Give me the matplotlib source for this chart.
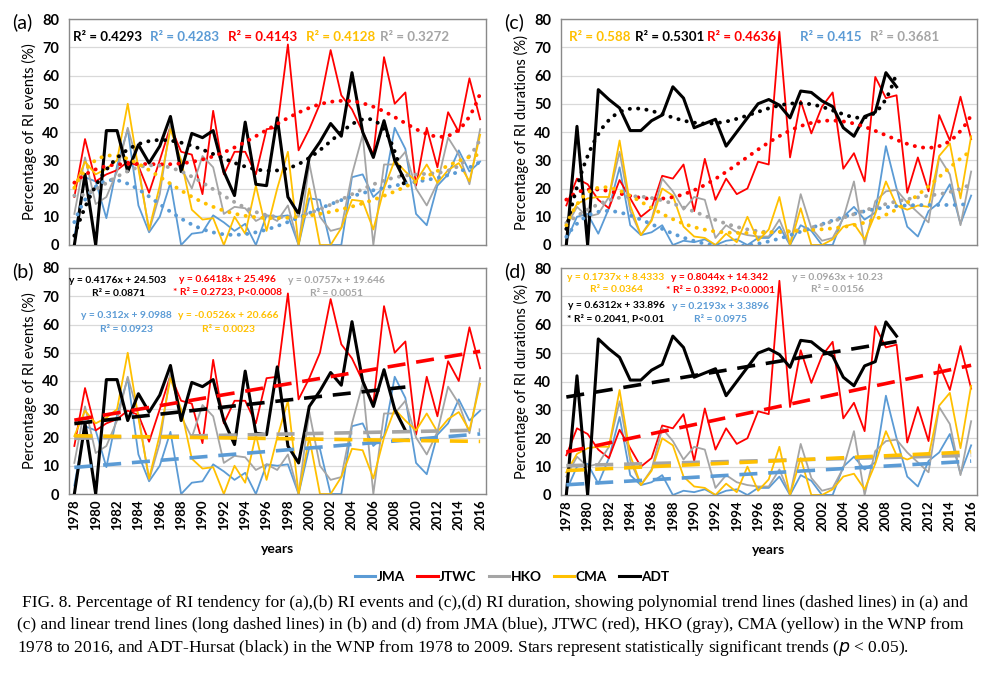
import numpy as np
import matplotlib
matplotlib.use("Agg")
import matplotlib.pyplot as plt

years = np.arange(1978, 2017)
adt_years = np.arange(1978, 2010)

# percentage of RI events
ev_jma = [3, 24, 22.5, 9.5, 28, 41, 14, 4.5, 10, 22, 0, 4, 4.5, 10.5, 8, 5, 7.5, 0, 10.5, 10,
          10.5, 0, 16.5, 16, 0, 0, 24, 25, 17, 20.5, 41.5, 34, 11, 7, 21, 25, 33.5, 26, 29.5]
ev_jtwc = [17, 37.5, 22.5, 25, 26.5, 29.5, 28, 18.5, 30, 42, 33, 32, 18, 47.5, 25, 33, 33, 25, 41,
           41.5, 71, 33.5, 41, 50, 69, 53, 48, 40, 32, 66.5, 50, 54, 21, 41.5, 27.5, 47, 40, 59, 44.5]
ev_hko = [11, 31, 14.5, 17, 26, 41.5, 28, 5, 18, 43, 27.5, 20, 31.5, 27.5, 11, 13.5, 13, 8.5, 10.5,
          8.5, 14, 0, 29, 10, 5, 6, 25, 39, 0, 28.5, 28.5, 33, 20, 14, 22, 38, 32, 21.5, 41]
ev_cma = [20.5, 29.5, 25, 27, 30, 50, 27, 5.5, 21, 41, 30, 12.5, 9, 9.5, 0, 10, 4, 21, 5, 20,
          33, 0, 20, 0, 0, 6, 16, 15.5, 5.5, 20, 30, 26, 22.5, 28.5, 22, 26.5, 29, 22.5, 39]
ev_adt = [0, 25, 0, 40.5, 40.5, 26, 35.5, 29, 35, 45.5, 26, 39.5, 38, 40.5, 26, 17.5, 43.5, 21.5,
          21, 45, 17, 11, 31, 36.5, 43, 38.5, 61, 40, 31, 44, 30, 22.5]

# percentage of RI durations
du_jma = [1.5, 10, 11, 4, 13, 27.5, 7, 3.5, 4.5, 7, 0, 1.5, 1, 2, 0, 1.5, 2, 0, 2.5, 2.5,
          6.5, 0, 7, 5, 0, 0, 10, 13.5, 9, 11.5, 35, 20, 6.5, 3, 12, 15, 21.5, 7.5, 17.5]
du_jtwc = [14, 23.5, 21.5, 16, 13, 23, 16.5, 10, 13, 24.5, 23.5, 28.5, 12, 30.5, 16, 23.5, 18, 20,
           29.5, 28.5, 75.5, 31, 51, 39.5, 49, 54, 27, 32.5, 22.5, 59.5, 52, 53, 18.5, 31, 19, 46,
           37, 52.5, 37.5]
du_hko = [6.5, 13.5, 10, 11, 17, 33, 12, 3.5, 9, 23.5, 19, 12.5, 17, 16, 2.5, 7, 4.5, 3.5, 3, 3,
          9, 0, 18, 6, 1.5, 2.5, 9.5, 22.5, 0, 15.5, 19, 19.5, 15, 11.5, 8, 31, 25, 7, 26]
du_cma = [8, 14.5, 16.5, 17, 17, 37, 14, 3.5, 8.5, 20, 17.5, 6.5, 3, 2.5, 0, 4, 1, 10, 1.5, 5.5,
          17, 0, 13, 0, 0, 2, 6.5, 7.5, 2, 11, 22.5, 14, 12.5, 14, 13.5, 31.5, 36, 16.5, 38.5]
du_adt = [0, 42, 0, 55, 51.5, 48.5, 40.5, 40.5, 44, 46, 56, 52, 41.5, 43, 44.5, 35, 40, 45, 50,
          51.5, 49.5, 45, 54.5, 54, 51, 49, 41.5, 38.5, 45.5, 47, 61, 56]

names = ["JMA", "JTWC", "HKO", "CMA", "ADT"]
colors = ["#5B9BD5", "#FF0000", "#A5A5A5", "#FFC000", "#000000"]

# R^2 of the polynomial trends, panel (a) and (c)
r2_ev = [("R² = 0.4293", "k", 73), ("R² = 0.4283", colors[0], 150), ("R² = 0.4143", colors[1], 228),
         ("R² = 0.4128", colors[3], 306), ("R² = 0.3272", colors[2], 380)]
r2_du = [("R² = 0.588", colors[3], 569), ("R² = 0.5301", "k", 635), ("R² = 0.4636", colors[1], 707),
         ("R² = 0.415", colors[0], 800), ("R² = 0.3681", colors[2], 870)]

# linear trends (slope, intercept), x = 1..n
lin_ev = [(0.312, 9.0988), (0.6418, 25.496), (0.0757, 19.646), (-0.0526, 20.666), (0.4176, 24.503)]
lin_du = [(0.2193, 3.3896), (0.8044, 14.342), (0.0963, 10.23), (0.1737, 8.4333), (0.6312, 33.896)]

# equation labels: text lines, colour, centre x, top y (pixels)
eq_ev = [(["y = 0.4176x + 24.503", "R² = 0.0871"], "k", 118, 280),
         (["y = 0.6418x + 25.496", "* R² = 0.2723, P<0.0008"], colors[1], 227, 279),
         (["y = 0.0757x + 19.646", "R² = 0.0051"], colors[2], 336, 280),
         (["y = 0.312x + 9.0988", "R² = 0.0923"], colors[0], 126, 316),
         (["y = -0.0526x + 20.666", "R² = 0.0023"], colors[3], 228, 316)]
eq_du = [(["y = 0.1737x + 8.4333", "R² = 0.0364"], colors[3], 616, 277),
         (["y = 0.8044x + 14.342", "* R² = 0.3392, P<0.0001"], colors[1], 720, 277),
         (["y = 0.0963x + 10.23", "R² = 0.0156"], colors[2], 837, 277),
         (["y = 0.6312x + 33.896", "* R² = 0.2041, P<0.01"], "k", 616, 306),
         (["y = 0.2193x + 3.3896", "R² = 0.0975"], colors[0], 720, 307)]

W, H = 988, 673
plt.rcParams['font.family'] = ['Lato', 'DejaVu Sans']

fig = plt.figure(figsize=(W / 100, H / 100), dpi=100)


def make_axes(x0, y0, x1, y1, label, ylabel, show_years):
    ax = fig.add_axes([x0 / W, 1 - y1 / H, (x1 - x0) / W, (y1 - y0) / H])
    ax.set_xlim(1977.5, 2016.55)
    ax.set_ylim(0, 80)
    ax.set_yticks(np.arange(0, 81, 10))
    ax.grid(axis="y", color="#D9D9D9", lw=0.9)
    ax.set_axisbelow(True)
    for s in ax.spines.values():
        s.set_color("#898989")
        s.set_linewidth(1.0)
    ax.tick_params(axis="y", length=0, labelsize=10.5, pad=7)
    for t in ax.get_yticklabels():
        t.set_fontweight("bold")
    ax.set_ylabel(ylabel, fontsize=10.5, labelpad=4)
    if show_years:
        ax.set_xticks(np.arange(1978, 2017, 2))
        ax.set_xticklabels([str(y) for y in range(1978, 2017, 2)], rotation=90,
                           fontsize=9.5, fontweight="bold")
        ax.tick_params(axis="x", length=0, pad=4)
        ax.set_xlabel("years", fontsize=10, fontweight="bold", labelpad=9)
    else:
        ax.set_xticks([])
    fig.text((x0 - 57) / W, 1 - (y0 - 6) / H, label, fontsize=14, va="top", ha="left")
    return ax


def draw_series(ax, data):
    for vals, c, n in zip(data, colors, names):
        xs = years if n != "ADT" else adt_years
        ax.plot(xs, vals, color=c, lw=2.2 if n == "ADT" else 1.3, zorder=3 if n == "ADT" else 2,
                label=n)


def draw_poly(ax, data):
    for vals, c, n in zip(data, colors, names):
        xi = np.arange(1, len(vals) + 1)
        p = np.polynomial.Polynomial.fit(xi, vals, 6)
        xf = np.linspace(1, len(vals), 200)
        ax.plot(xf + 1977, p(xf), color=c, lw=2.8, ls=(0, (0.05, 2.1)),
                dash_capstyle="round", zorder=4)


def draw_linear(ax, data, coef):
    for vals, c, n, (a, b) in zip(data, colors, names, coef):
        xi = np.arange(1, len(vals) + 1)
        ax.plot(xi + 1977, a * xi + b, color=c, lw=2.6, ls=(0, (5, 3)), zorder=4)


def r2_text(items):
    for txt, c, x in items:
        fig.text(x / W, 1 - 37 / H, txt, color=c, fontsize=9.6, fontweight="bold", va="center")


def eq_text(items):
    for lines, c, x, y in items:
        fig.text(x / W, 1 - y / H, lines[0], color=c, fontsize=7.4, fontweight="bold",
                 ha="center", va="center")
        fig.text(x / W, 1 - (y + 13) / H, lines[1], color=c, fontsize=7.4, fontweight="bold",
                 ha="center", va="center")


# (a)
ax_a = make_axes(69, 19, 486, 245, "(a)", "Percentage of RI events (%)", False)
draw_series(ax_a, [ev_jma, ev_jtwc, ev_hko, ev_cma, ev_adt])
draw_poly(ax_a, [ev_jma, ev_jtwc, ev_hko, ev_cma, ev_adt])
r2_text(r2_ev)

# (c)
ax_c = make_axes(561, 19, 977, 245, "(c)", "Percentage of RI durations (%)", False)
draw_series(ax_c, [du_jma, du_jtwc, du_hko, du_cma, du_adt])
draw_poly(ax_c, [du_jma, du_jtwc, du_hko, du_cma, du_adt])
r2_text(r2_du)

# (b)
ax_b = make_axes(69, 268, 486, 494, "(b)", "Percentage of RI events (%)", True)
draw_series(ax_b, [ev_jma, ev_jtwc, ev_hko, ev_cma, ev_adt])
draw_linear(ax_b, [ev_jma, ev_jtwc, ev_hko, ev_cma, ev_adt], lin_ev)
eq_text(eq_ev)

# (d)
ax_d = make_axes(561, 268, 977, 495, "(d)", "Percentage of RI durations (%)", True)
draw_series(ax_d, [du_jma, du_jtwc, du_hko, du_cma, du_adt])
draw_linear(ax_d, [du_jma, du_jtwc, du_hko, du_cma, du_adt], lin_du)
eq_text(eq_du)

handles, labels = ax_b.get_legend_handles_labels()
leg = fig.legend(handles, labels, loc="center", bbox_to_anchor=(512 / W, 1 - 577 / H), ncol=5,
                 frameon=False, handlelength=1.5, handletextpad=0.1, columnspacing=0.9,
                 prop={"weight": "bold", "size": 9.8})
for ln in leg.get_lines():
    ln.set_linewidth(2.2)

caption = [
    (22, 603, "FIG. 8. Percentage of RI tendency for (a),(b) RI events and (c),(d) RI duration, showing polynomial trend lines (dashed lines) in (a) and"),
    (17, 625, "(c) and linear trend lines (long dashed lines) in (b) and (d) from JMA (blue), JTWC (red), HKO (gray), CMA (yellow) in the WNP from"),
    (17, 648, "1978 to 2016, and ADT-Hursat (black) in the WNP from 1978 to 2009. Stars represent statistically significant trends ($p$ < 0.05)."),
]
for x, y, txt in caption:
    fig.text(x / W, 1 - y / H, txt, fontsize=12.5, family="Liberation Serif", va="center")

fig.savefig("out.png", dpi=100)
